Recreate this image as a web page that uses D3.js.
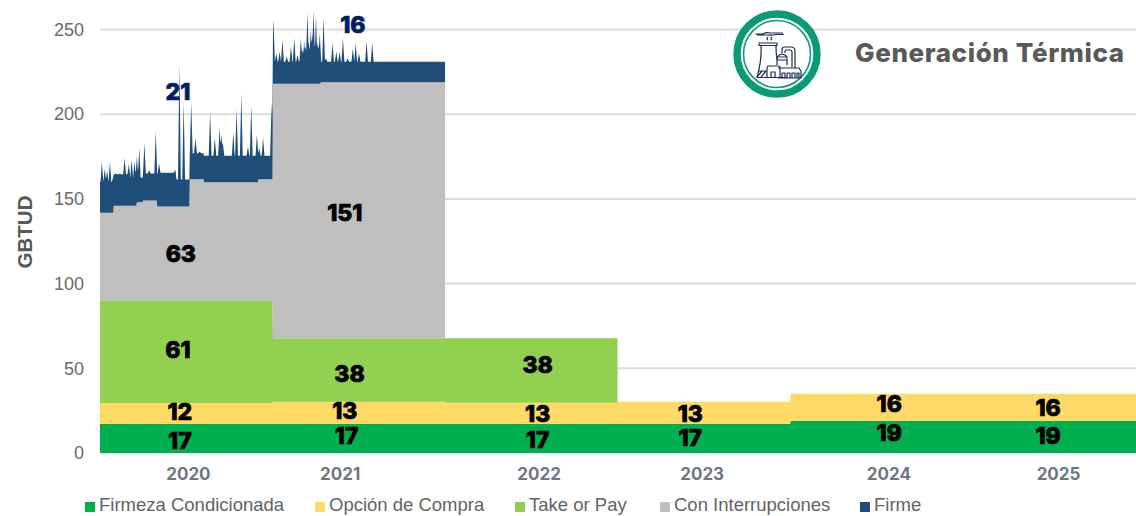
<!DOCTYPE html>
<html><head><meta charset="utf-8">
<script src="https://cdnjs.cloudflare.com/ajax/libs/d3/7.8.5/d3.min.js"></script>
<style>html,body{margin:0;padding:0;background:#fff;overflow:hidden}svg{display:block}</style>
</head><body><svg id="c" width="1136" height="516"></svg>
<script>
const seriesNames = ["Firmeza Condicionada","Opción de Compra","Take or Pay","Con Interrupciones","Firme"];
const seriesColors = ["#00b050","#ffd966","#92d050","#bfbfbf","#1f4e79"];
const yTicks = [0,50,100,150,200,250];
const yearLabels = ["2020","2021","2022","2023","2024","2025"];
const yearLabelDates = ["2020-07-05","2021-05-22","2022-07-17","2023-06-27","2024-07-26","2025-07-20"];

// Stepped levels: date each level begins, cumulative top value of that layer
const firmezaStart = ["2020-01-01","2024-01-01"];
const firmezaTop   = [17.1,18.9];
const opcionStart  = ["2020-01-01","2021-01-01","2022-01-01","2023-01-01","2024-01-01"];
const opcionTop    = [29.5,30.2,29.7,30.3,35];
const takeStart    = ["2020-01-01","2021-01-01","2023-01-01"];
const takeTop      = [89.8,67.8,null];
const interrStart  = ["2020-01-01","2020-01-30","2020-03-19","2020-04-01","2020-05-01","2020-07-09","2020-08-08","2020-12-01","2021-01-01","2021-04-12","2022-01-01"];
const interrTop    = [141.8,146,148,149,145.5,161.6,159.8,161.6,218,218.9,null];
const firmeStart   = ["2020-01-01","2020-01-30","2020-03-01","2020-04-01","2020-05-05","2020-06-10","2020-07-09","2020-08-08","2021-01-01","2022-01-01"];
const firmeTop     = [160,164.5,162.5,165,165.5,161.5,177,175.5,231,null];

// Daily spikes of the Firme layer (top of stack)
const peakDates = ["2020-01-05","2020-01-11","2020-01-16","2020-01-22","2020-01-29","2020-02-03","2020-02-12","2020-02-22","2020-03-02","2020-03-08","2020-03-14","2020-03-19","2020-03-24","2020-04-04","2020-04-14","2020-04-28","2020-05-05","2020-05-12","2020-06-08","2020-06-17","2020-06-26","2020-07-12","2020-07-21","2020-07-30","2020-08-21","2020-08-31","2020-09-10","2020-09-14","2020-09-17","2020-10-09","2020-10-16","2020-10-26","2020-11-09","2020-11-16","2020-11-28","2020-12-03","2020-12-11","2020-12-29",
"2021-01-02","2021-01-08","2021-01-15","2021-01-21","2021-01-30","2021-02-08","2021-02-15","2021-02-22","2021-03-01","2021-03-04","2021-03-08","2021-03-11","2021-03-15","2021-03-18","2021-03-22","2021-03-25","2021-03-28","2021-04-02","2021-04-06","2021-04-10","2021-04-18","2021-04-23","2021-05-07","2021-05-15","2021-05-22","2021-05-29","2021-06-08","2021-06-19","2021-06-25","2021-07-02","2021-07-18","2021-07-30"];
const peakValues = [172,168,167,172,163,165,165,174,171,173,172,175,180,183,167,190,171,165,167,230,207,207,186,178,201,186,192,188,183,189,203,212,181,205,188,180,186,207,
256,236,237,244,234,240,245,235,245,238,243,240,260,242,250,245,261,258,243,248,257,233,242,237,237,245,233,239,242,236,243,242];
const peakHalfWidthDays = 3;

const labelTexts  = ["21","16","63","151","61","38","38","12","13","13","13","16","16","17","17","17","17","19","19"];
const labelDates  = ["2020-06-14","2021-06-19","2020-06-20","2021-06-02","2020-06-14","2021-06-12","2022-07-15","2020-06-18","2021-06-02","2022-07-15","2023-06-03","2024-07-28","2025-06-29","2020-06-18","2021-06-06","2022-07-15","2023-06-03","2024-07-28","2025-06-29"];
const labelValues = [213,253,117.5,141.7,60.8,46.6,52,24.2,24.8,23,23,29,26.6,7,10,7.7,8.9,11.8,10];
const labelColors = ["#002060","#002060"];

const parse = d3.utcParse("%Y-%m-%d");
const x = d3.scaleUtc().domain([parse("2020-01-01"),parse("2026-01-01")]).range([100,1136]);
const y = d3.scaleLinear().domain([0,250]).range([453,29.5]);
const svg = d3.select("#c");

// Grid
svg.append("g").selectAll("line").data(yTicks.slice(1)).join("line")
  .attr("x1",100).attr("x2",1136).attr("y1",d=>y(d)).attr("y2",d=>y(d))
  .attr("stroke","#dcdcdc").attr("stroke-width",2);
svg.append("line").attr("x1",100).attr("x2",1136).attr("y1",y(0)).attr("y2",y(0)).attr("stroke","#dcdcdc").attr("stroke-width",1);

// Daily rows
const days = d3.utcDay.range(parse("2020-01-01"),d3.utcDay.offset(parse("2026-01-01"),1));
const step = (starts,vals)=>{const s=starts.map(parse);return d=>{const i=d3.bisectRight(s,d)-1;return i<0?null:vals[i];};};
const fFirmeza=step(firmezaStart,firmezaTop),fOpcion=step(opcionStart,opcionTop),fTake=step(takeStart,takeTop),fInterr=step(interrStart,interrTop),fFirme=step(firmeStart,firmeTop);
const peakTimes=peakDates.map(d=>+parse(d));
const DAY=864e5;
const rows=days.map(d=>{
  const a=fFirmeza(d),b=fOpcion(d),c=fTake(d),e=fInterr(d);
  let t=fFirme(d);
  if(t!=null) peakTimes.forEach((p,i)=>{
    const dd=Math.abs(+d-p)/DAY;
    if(dd<peakHalfWidthDays) t=Math.max(t,peakValues[i]-(peakValues[i]-t)*dd/peakHalfWidthDays);
  });
  const base=[a,b,c,e].reduce((m,v)=>v==null?m:v,0);
  return {date:d,[seriesNames[0]]:a,[seriesNames[1]]:b-a,
    [seriesNames[2]]:c==null?0:c-b,
    [seriesNames[3]]:e==null?0:e-c,
    [seriesNames[4]]:t==null?0:t-base};
});
const stacked=d3.stack().keys(seriesNames)(rows);
const area=d3.area().x(d=>x(d.data.date)).y0(d=>y(d[0])).y1(d=>y(d[1]))
  .defined(d=>d[1]>d[0]);
svg.append("g").selectAll("path").data(stacked).join("path")
  .attr("d",area).attr("fill",(d,i)=>seriesColors[i]);

// Axes
const font='"Liberation Sans",Arial,sans-serif';
const yAxis=svg.append("g").attr("transform","translate(100,0)")
  .call(d3.axisLeft(y).tickValues(yTicks).tickSize(0).tickPadding(16));
yAxis.select(".domain").remove();
yAxis.selectAll("text").attr("font-family",font).attr("font-size",18).attr("fill","#6a6a6a");
const xAxis=svg.append("g").attr("transform","translate(0,468)")
  .call(d3.axisBottom(x).tickValues(yearLabelDates.map(parse)).tickFormat((d,i)=>yearLabels[i]).tickSize(0).tickPadding(0));
xAxis.select(".domain").remove();
xAxis.selectAll("text").attr("font-family","Inter,sans-serif").attr("font-weight",700).attr("font-size",17).attr("fill","#6f7585").attr("dy","0.72em");

svg.append("text").attr("transform","translate(32,232) rotate(-90)").attr("text-anchor","middle")
  .attr("font-family",font).attr("font-weight",700).attr("font-size",20.5).attr("fill","#595959").text("GBTUD");

// Value labels
svg.append("g").selectAll("text").data(labelTexts).join("text")
  .attr("x",(d,i)=>x(parse(labelDates[i]))).attr("y",(d,i)=>y(labelValues[i]))
  .attr("dy","0.36em").attr("text-anchor","middle")
  .attr("font-family","Inter,sans-serif").attr("font-weight",800).attr("font-size",23)
  .attr("stroke",(d,i)=>labelColors[i]||"#000").attr("stroke-width",0.7)
  .attr("fill",(d,i)=>labelColors[i]||"#000").text(d=>d);

// Legend
const legendX=[85,315,515,660,860];
const lg=svg.append("g").selectAll("g").data(seriesNames).join("g").attr("transform",(d,i)=>`translate(${legendX[i]},507)`);
lg.append("rect").attr("x",0).attr("y",-5).attr("width",10).attr("height",10).attr("fill",(d,i)=>seriesColors[i]);
lg.append("text").attr("x",14).attr("dy","0.24em").attr("font-family",font).attr("font-size",18.5).attr("fill","#5f6368").text(d=>d);

// Title and icon
svg.append("text").attr("x",855).attr("y",62).attr("font-family","Inter,sans-serif").attr("font-weight",800).attr("font-size",26).attr("letter-spacing",0.6).attr("fill","#595959").text("Generación Térmica");
const ic=svg.append("g").attr("transform","translate(777,54)");
ic.append("circle").attr("r",43.6).attr("fill","#fff").attr("stroke","none");
ic.append("circle").attr("r",40).attr("fill","none").attr("stroke","#0a9a75").attr("stroke-width",7.4);
ic.append("circle").attr("r",33.5).attr("fill","none").attr("stroke","#0a9a75").attr("stroke-width",1.6);
const ink=ic.append("g").attr("fill","none").attr("stroke","#1d2b55").attr("stroke-width",1.2).attr("stroke-linejoin","round");
ink.append("path").attr("d","M-21,-20 h7 q3,-2 7,-1 h12 l1,1.5 h-7 q-3,1 -8,0.5 h-10 z M-9,-17 q-2,2 0,3 M-5,-17 q-2,2 0,3");
ink.append("path").attr("d","M-18,-11 h18 v2.5 h-18 z M-16,-8.5 q1,14 -4,32 h29 M-1,-8.5 q0,8 1,14");
ink.append("path").attr("d","M-20,23 l5,-6 M-16,23 l5,-6 M-19,17 h9");
ink.append("path").attr("d","M-10,24 v-10 q0,-2 2,-2 h9 q2,0 2,2 v10 M-6,24 v-6 h4 v6 M1,14 h21 l2,3 v7 h-23");
ink.append("path").attr("d","M5,24 v-5 h3 v5 M10,24 v-5 h3 v5 M15,24 v-5 h3 v5 M20,24 v-5 h2 v5");
ink.append("path").attr("d","M0,11 v-5 q0,-5 5,-6 q6,1 5,6 v5 M0,6 h10 M0,3 h10");
ink.append("path").attr("d","M5,-1 v-3 q0,-3 3,-3 h6 q4,0 4,4 v17 M8,-1 v-2 q0,-1 1,-1 h4 q2,0 2,2 v15");
</script></body></html>
